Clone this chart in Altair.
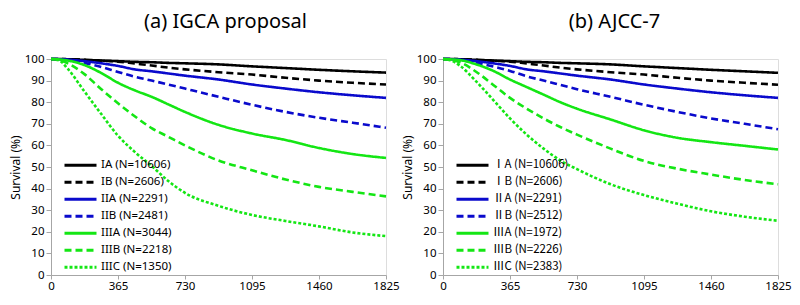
import altair as alt
import pandas as pd

days = [0, 45, 91, 182, 274, 365, 456, 548, 639, 730, 913, 1095, 1278, 1460, 1643, 1825]
x_ticks = [0, 365, 730, 1095, 1460, 1825]
y_ticks = [0, 10, 20, 30, 40, 50, 60, 70, 80, 90, 100]

# (a) IGCA proposal
labels_a = ["IA (N=10606)", "IB (N=2606)", "IIA (N=2291)", "IIB (N=2481)",
            "IIIA (N=3044)", "IIIB (N=2218)", "IIIC (N=1350)"]
a_IA = [100, 100, 99.9, 99.6, 99.3, 99.0, 98.7, 98.5, 98.2, 98.0, 97.5, 96.6, 95.8, 95.0, 94.3, 93.7]
a_IB = [100, 100, 99.9, 99.6, 99.2, 98.8, 97.9, 97.0, 96.0, 95.2, 93.9, 92.8, 91.3, 90.0, 89.0, 88.2]
a_IIA = [100, 99.9, 99.7, 99.0, 98.0, 96.8, 95.2, 94.3, 93.3, 92.3, 90.5, 88.2, 86.3, 84.6, 83.2, 82.0]
a_IIB = [100, 99.8, 99.5, 98.2, 96.3, 94.0, 91.8, 90.0, 88.2, 86.3, 82.5, 78.8, 75.5, 72.8, 70.5, 68.2]
a_IIIA = [100, 99.8, 99.3, 97.2, 93.5, 89.0, 85.5, 82.5, 79.0, 75.5, 69.5, 65.5, 62.5, 58.8, 56.0, 54.2]
a_IIIB = [100, 99.5, 98.0, 93.0, 86.0, 79.5, 73.5, 68.0, 64.0, 60.0, 53.0, 48.5, 44.2, 40.8, 38.5, 36.4]
a_IIIC = [100, 99.3, 95.5, 85.0, 74.5, 64.5, 57.0, 50.5, 43.5, 38.0, 32.0, 27.8, 25.0, 22.5, 19.7, 18.0]

# (b) AJCC-7
labels_b = ["\u2160A (N=10606)", "\u2160B (N=2606)", "\u2161A (N=2291)", "\u2161B (N=2512)",
            "\u2162A (N=1972)", "\u2162B (N=2226)", "\u2162C (N=2383)"]
b_IA = [100, 100, 99.9, 99.6, 99.3, 99.0, 98.7, 98.5, 98.2, 98.0, 97.5, 96.6, 95.8, 95.0, 94.3, 93.6]
b_IB = [100, 100, 99.9, 99.6, 99.2, 98.8, 97.9, 97.0, 96.0, 95.2, 93.9, 92.8, 91.3, 90.0, 89.0, 88.1]
b_IIA = [100, 99.9, 99.7, 99.0, 98.0, 96.8, 95.2, 94.3, 93.3, 92.3, 90.5, 88.2, 86.3, 84.6, 83.2, 82.0]
b_IIB = [100, 99.8, 99.5, 98.2, 96.5, 94.5, 92.0, 90.0, 88.0, 86.0, 82.5, 78.8, 75.5, 72.5, 70.0, 67.5]
b_IIIA = [100, 99.8, 99.5, 97.5, 94.5, 90.5, 87.0, 83.5, 80.0, 77.0, 72.0, 67.0, 63.5, 61.5, 59.8, 58.1]
b_IIIB = [100, 99.5, 98.5, 94.0, 88.0, 82.0, 77.0, 72.5, 68.5, 65.0, 58.5, 52.8, 49.2, 46.5, 44.0, 42.0]
b_IIIC = [100, 99.3, 97.0, 89.5, 81.0, 72.5, 65.0, 58.5, 53.0, 49.0, 42.0, 37.0, 33.0, 29.5, 27.0, 25.1]

colors = ["#000000", "#000000", "#0a0acc", "#0a0acc", "#14e614", "#14e614", "#14e614"]
dashes = [[1, 0], [7, 4], [1, 0], [7, 4], [1, 0], [7, 4], [3, 2]]

FONT = "Noto Sans"


def panel(title, dx, labels, series, legend_font):
    rows = []
    for lab, vals in zip(labels, series):
        for d, v in zip(days, vals):
            rows.append({"day": d, "surv": v, "stage": lab})
    df = pd.DataFrame(rows)
    leg = alt.Legend(
        orient="none", legendX=12, legendY=98, title=None,
        symbolType="stroke", symbolSize=1024, symbolStrokeWidth=3,
        labelFontSize=11.5, labelFont=legend_font, labelColor="#000000",
        clipHeight=16.5, rowPadding=0, labelOffset=3, padding=0,
    )
    return alt.Chart(df, title=alt.Title(
        title, fontSize=20, font=FONT, fontWeight="normal", color="#000000",
        offset=21, dx=dx)).mark_line(strokeWidth=2.6, interpolate="monotone").encode(
        x=alt.X("day:Q", scale=alt.Scale(domain=[0, 1825], nice=False),
                axis=alt.Axis(values=x_ticks, format="d", title=None, grid=False, labelFontSize=11.5,
                              labelFont=FONT, labelColor="#000000", domainColor="#a6a6a6",
                              tickColor="#a6a6a6", tickSize=4, labelPadding=1,
                              labelFlush=False)),
        y=alt.Y("surv:Q", scale=alt.Scale(domain=[0, 100], nice=False),
                axis=alt.Axis(values=y_ticks, title="Survival (%)", grid=False, labelFontSize=11.5,
                              labelFont=FONT, labelColor="#000000", domainColor="#a6a6a6",
                              tickColor="#a6a6a6", tickSize=5, labelPadding=2,
                              titleFont=FONT, titleFontSize=12, titleFontWeight="normal",
                              titleColor="#000000", titlePadding=2)),
        color=alt.Color("stage:N", scale=alt.Scale(domain=labels, range=colors),
                        sort=labels, legend=leg),
        strokeDash=alt.StrokeDash("stage:N", scale=alt.Scale(domain=labels, range=dashes),
                                  sort=labels, legend=leg),
    ).properties(width=335, height=216)


left = panel("(a) IGCA proposal", 7, labels_a,
             [a_IA, a_IB, a_IIA, a_IIB, a_IIIA, a_IIIB, a_IIIC], FONT)
right = panel("(b) AJCC-7", 4, labels_b,
              [b_IA, b_IB, b_IIA, b_IIB, b_IIIA, b_IIIB, b_IIIC], "Noto Sans CJK JP")

chart = alt.hconcat(left, right, spacing=0).resolve_scale(
    color="independent", strokeDash="independent"
).resolve_legend(color="independent", strokeDash="independent").configure_view(
    stroke=None
).configure(background="white", padding={"top": 3, "left": 0, "right": 0, "bottom": 0})

chart.save("out.html", embed_options={"renderer": "svg", "actions": False})
